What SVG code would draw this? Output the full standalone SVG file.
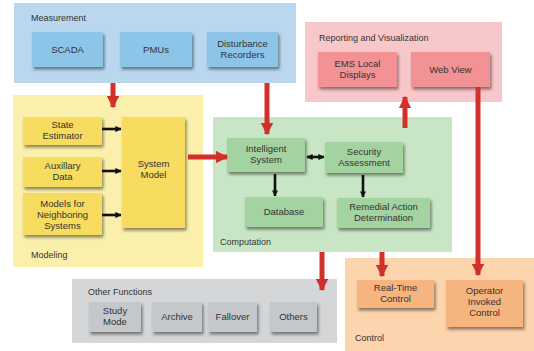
<svg xmlns="http://www.w3.org/2000/svg" width="534" height="351" viewBox="0 0 534 351">
<defs>
<filter id="sh" x="-20%" y="-20%" width="150%" height="160%">
<feDropShadow dx="1.5" dy="2.5" stdDeviation="1.5" flood-color="#000" flood-opacity="0.45"/>
</filter>
<marker id="rh" viewBox="0 0 10 10" refX="9" refY="5" markerWidth="2.5" markerHeight="2.5" orient="auto" markerUnits="strokeWidth">
<path d="M0,0 L10,5 L0,10 Z" fill="#d2302a"/>
</marker>
<marker id="bh" viewBox="0 0 10 10" refX="9" refY="5" markerWidth="2.4" markerHeight="2.4" orient="auto-start-reverse" markerUnits="strokeWidth">
<path d="M0,0 L10,5 L0,10 Z" fill="#111"/>
</marker>
</defs>
<style>
text{font-family:"Liberation Sans",Arial,sans-serif;font-size:9.5px;fill:#333;text-anchor:middle}
.lbl{text-anchor:start;font-size:9px}
.box{filter:url(#sh)}
.meas{fill:#8dc5e9}
.rep{fill:#f29294}
.mod{fill:#f8dc5f}
.comp{fill:#a3d3a0}
.oth{fill:#c5c8ca}
.ctl{fill:#f6b47e}
.red{stroke:#d2302a;stroke-width:5;fill:none;marker-end:url(#rh)}
.blk{stroke:#111;stroke-width:2.6;fill:none;marker-end:url(#bh)}
</style>
<rect width="534" height="351" fill="#fff"/>

<g id="measurement">
<rect x="14" y="3" width="282" height="80" fill="#b9d8f0"/>
<text class="lbl" x="31" y="21">Measurement</text>
</g>
<g id="scada"><rect class="box meas" x="32" y="32" width="71" height="35"/><text x="67.5" y="53">SCADA</text></g>
<g id="pmus"><rect class="box meas" x="120" y="32" width="72" height="35"/><text x="156" y="53">PMUs</text></g>
<g id="disturbance"><rect class="box meas" x="207" y="32" width="71" height="35"/><text x="242.5" y="47">Disturbance</text><text x="242.5" y="58">Recorders</text></g>

<g id="reporting">
<rect x="305" y="22" width="197" height="80" fill="#f8c7ca"/>
<text class="lbl" x="319" y="41">Reporting and Visualization</text>
</g>
<g id="ems"><rect class="box rep" x="318" y="52" width="79" height="35"/><text x="357.5" y="67">EMS Local</text><text x="357.5" y="78">Displays</text></g>
<g id="webview"><rect class="box rep" x="411" y="52" width="79" height="35"/><text x="450.5" y="73">Web View</text></g>

<g id="modeling">
<rect x="13" y="95" width="190" height="172" fill="#fbf0ab"/>
<text class="lbl" x="31" y="258">Modeling</text>
</g>
<g id="state"><rect class="box mod" x="23" y="117" width="79" height="28"/><text x="62.5" y="128">State</text><text x="62.5" y="139">Estimator</text></g>
<g id="aux"><rect class="box mod" x="23" y="157" width="79" height="30"/><text x="62.5" y="169">Auxillary</text><text x="62.5" y="180">Data</text></g>
<g id="neighbor"><rect class="box mod" x="23" y="193" width="79" height="42"/><text x="62.5" y="207">Models for</text><text x="62.5" y="218">Neighboring</text><text x="62.5" y="229">Systems</text></g>
<g id="sysmodel"><rect class="box mod" x="122" y="117" width="63" height="111"/><text x="153.5" y="167">System</text><text x="153.5" y="178">Model</text></g>

<g id="computation">
<rect x="213" y="117" width="239" height="135" fill="#c8e6c5"/>
<text class="lbl" x="220" y="245">Computation</text>
</g>
<g id="intelligent"><rect class="box comp" x="227" y="138" width="78" height="34"/><text x="266" y="152">Intelligent</text><text x="266" y="163">System</text></g>
<g id="security"><rect class="box comp" x="325" y="142" width="78" height="31"/><text x="364" y="155">Security</text><text x="364" y="166">Assessment</text></g>
<g id="database"><rect class="box comp" x="245" y="197" width="78" height="30"/><text x="284" y="215">Database</text></g>
<g id="remedial"><rect class="box comp" x="337" y="198" width="93" height="30"/><text x="383.5" y="210">Remedial Action</text><text x="383.5" y="221">Determination</text></g>

<g id="other">
<rect x="72" y="279" width="265" height="64" fill="#d4d6d7"/>
<text class="lbl" x="88" y="295">Other Functions</text>
</g>
<g id="study"><rect class="box oth" x="89" y="302" width="52" height="30"/><text x="115" y="314">Study</text><text x="115" y="325">Mode</text></g>
<g id="archive"><rect class="box oth" x="152" y="302" width="50" height="30"/><text x="177" y="320">Archive</text></g>
<g id="fallover"><rect class="box oth" x="208" y="302" width="49" height="30"/><text x="232.5" y="320">Fallover</text></g>
<g id="others"><rect class="box oth" x="270" y="302" width="47" height="30"/><text x="293.5" y="320">Others</text></g>

<g id="control">
<rect x="345" y="258" width="189" height="93" fill="#fcd4ad"/>
<text class="lbl" x="355" y="341">Control</text>
</g>
<g id="realtime"><rect class="box ctl" x="357" y="280" width="77" height="28"/><text x="395.5" y="291">Real-Time</text><text x="395.5" y="302">Control</text></g>
<g id="operator"><rect class="box ctl" x="446" y="280" width="77" height="47"/><text x="484.5" y="294">Operator</text><text x="484.5" y="305">Invoked</text><text x="484.5" y="316">Control</text></g>

<g id="connectors">
<line class="red" x1="113" y1="83" x2="113" y2="107"/>
<line class="red" x1="267" y1="83" x2="267" y2="134"/>
<line class="red" x1="188" y1="157" x2="227" y2="157"/>
<line class="red" x1="405" y1="128" x2="405" y2="97"/>
<line class="red" x1="478" y1="87" x2="478" y2="275"/>
<line class="red" x1="322" y1="252" x2="322" y2="290"/>
<line class="red" x1="382" y1="252" x2="382" y2="276"/>
<line class="blk" x1="102" y1="129" x2="121" y2="129"/>
<line class="blk" x1="102" y1="171" x2="121" y2="171"/>
<line class="blk" x1="102" y1="215" x2="121" y2="215"/>
<line class="blk" x1="307" y1="157" x2="324" y2="157" style="marker-start:url(#bh)"/>
<line class="blk" x1="275" y1="174" x2="275" y2="196"/>
<line class="blk" x1="363" y1="175" x2="363" y2="197"/>
</g>
</svg>
